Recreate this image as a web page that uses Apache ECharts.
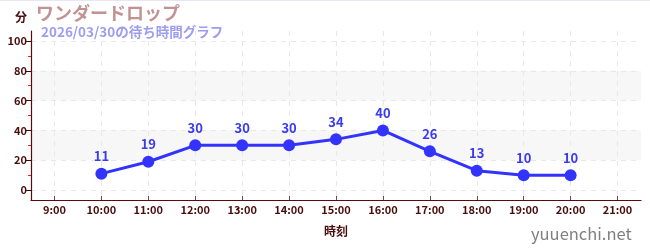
<!DOCTYPE html>
<html><head><meta charset="utf-8">
<script src="https://cdn.jsdelivr.net/npm/echarts@6/dist/echarts.min.js"></script>
<style>html,body{margin:0;padding:0;background:#fff;}#c{width:650px;height:250px;border-top:1px solid #e6e6f6;box-sizing:border-box;}</style>
</head><body><div id="c"></div>
<script>
const categories = ['9:00','10:00','11:00','12:00','13:00','14:00','15:00','16:00','17:00','18:00','19:00','20:00','21:00'];
const waits = [null,11,19,30,30,30,34,40,26,13,10,10,null];
const yTicks = [0,20,40,60,80,100];
const yMinorTicks = [10,30,50,70,90];
const titleText = 'ワンダードロップ';
const subText = '2026/03/30の待ち時間グラフ';

const font = '"Noto Sans CJK JP","Noto Sans",sans-serif';
const idx = categories.map((c,i)=>i);
const pts = waits.map((v,i)=> v==null ? null : [i,v]).filter(p=>p);
const chart = echarts.init(document.getElementById('c'));
chart.setOption({
  animation:false,
  textStyle:{fontFamily:font},
  title:[
    {text:titleText,left:36,top:3,padding:0,textStyle:{color:'#c29393',fontSize:18,fontWeight:'bold',fontFamily:font}},
    {text:subText,left:41,top:24,padding:0,textStyle:{color:'#9d9df0',fontSize:13.5,fontWeight:'bold',fontFamily:font}},
    {text:'yuuenchi.net',left:531,top:224,padding:0,textStyle:{color:'#808080',fontSize:16.5,fontWeight:'normal',fontFamily:font}}
  ],
  grid:{left:31,right:9,top:30,bottom:50,containLabel:false},
  xAxis:{type:'value',min:-0.5,max:12.5,
    name:'時刻',nameLocation:'middle',nameGap:25,
    nameTextStyle:{color:'#4a0c0c',fontSize:12,fontWeight:'bold'},
    axisLine:{show:true,onZero:false,lineStyle:{color:'#5a0a0a',width:1.2}},
    axisTick:{show:true,inside:true,customValues:idx,length:4,lineStyle:{color:'#555'}},
    axisLabel:{customValues:idx,formatter:v=>categories[Math.round(v)],color:'#4a0c0c',fontSize:11,fontWeight:'bold',margin:4},
    splitLine:{show:true,lineStyle:{color:'#e8e8e8',type:[5,5]}}
  },
  yAxis:[{type:'value',min:-6.67,max:106.67,
    name:'分',nameLocation:'end',nameGap:8,
    nameTextStyle:{color:'#4a0c0c',fontSize:12,fontWeight:'bold',align:'right',padding:[0,4,0,0]},
    axisLine:{show:true,onZero:false,lineStyle:{color:'#5a0a0a',width:1.2}},
    axisTick:{show:true,customValues:yTicks,length:5,lineStyle:{color:'#3a0a0a'}},
    axisLabel:{customValues:yTicks,color:'#4a0c0c',fontSize:11,fontWeight:'bold',margin:4},
    splitLine:{show:true,lineStyle:{color:'#e8e8e8',type:[5,5]}},
    splitArea:{show:true,areaStyle:{color:['rgba(255,255,255,0)','#f7f7f7']}}
  },{type:'value',min:-6.67,max:106.67,position:'left',offset:0,
    axisLine:{show:false,onZero:false},
    axisTick:{show:true,customValues:yMinorTicks,length:3,lineStyle:{color:'#dd2222'}},
    axisLabel:{show:false,customValues:yMinorTicks},
    splitLine:{show:false},splitArea:{show:false}
  }],
  series:[{type:'line',data:pts,symbol:'circle',symbolSize:12,
    lineStyle:{color:'#3333ff',width:3},itemStyle:{color:'#3333ff'},
    label:{show:true,position:'top',color:'#3a3aee',fontSize:13,fontWeight:'bold',distance:5,formatter:p=>p.value[1]}
  }]
});
</script></body></html>
